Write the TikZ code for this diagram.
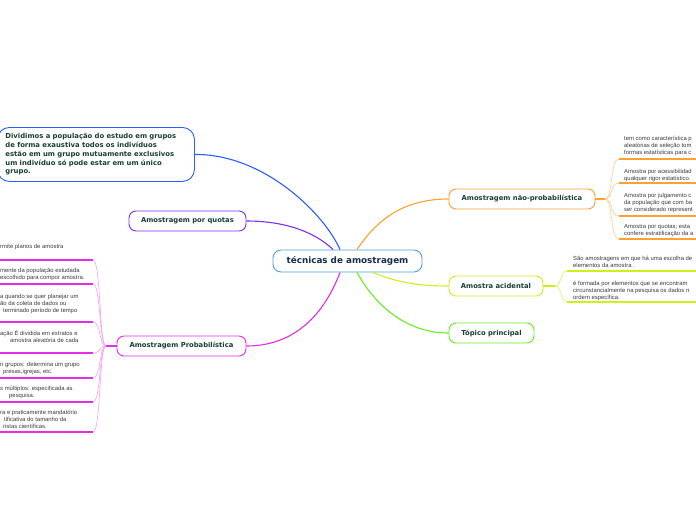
\documentclass[tikz,border=0pt]{standalone}
\usepackage{fontspec}
\setmainfont{DejaVu Sans}
\newfontfamily\leaffont{Liberation Sans}
\usepackage{xcolor}
\definecolor{rootblue}{HTML}{4F9FDB}
\definecolor{rootink}{HTML}{1B2B4B}
\definecolor{topicink}{HTML}{173F33}
\definecolor{leafink}{HTML}{3A3A3A}
\definecolor{divblue}{HTML}{2E5BFF}
\definecolor{quotapurple}{HTML}{7B2FF0}
\definecolor{probmagenta}{HTML}{E82BE8}
\definecolor{naoorange}{HTML}{FFA030}
\definecolor{acidyellow}{HTML}{CFEF1A}
\definecolor{topgreen}{HTML}{66EE22}
\tikzset{
  topic/.style={draw, rounded corners=7pt, line width=0.9pt, fill=white,
    inner sep=0pt, text=topicink, font=\bfseries\fontsize{6.8}{8}\selectfont},
  leaf/.style={inner sep=0pt, anchor=base west, text=leafink,
    font=\leaffont\fontsize{5.9}{7.3}\selectfont},
  branch/.style={line width=1.1pt},
  underline/.style={line width=1.3pt},
  fan/.style={line width=0.6pt},
}

\begin{document}
\begin{tikzpicture}
    [x=1pt,y=-1pt]
    \useasboundingbox (0,0) rectangle (696,520);
    \clip (0,0) rectangle (696,520);
    %central topic
    \node[draw=rootblue, rounded corners=8pt, line width=0.9pt, fill=white,
      minimum width=149pt, minimum height=22pt, inner sep=0pt, text=rootink,
      font=\bfseries\fontsize{8.8}{10}\selectfont] (root) at (347.5,261)
      {técnicas de amostragem};
    %main topics
    \node[draw=divblue, rounded corners=12pt, line width=0.9pt, fill=white,
      anchor=north west, text width=181pt, minimum height=54pt,
      inner xsep=8pt, inner ysep=0pt, align=left, text=topicink,
      font=\bfseries\fontsize{6.85}{8.8}\selectfont] (divid) at (-3,127)
      {Dividimos a população do estudo em grupos\\
       de forma  exaustiva todos os indivíduos\\
       estão em um grupo mutuamente exclusivos\\
       um indivíduo só pode estar em um único\\
       grupo.};
    \node[topic, draw=quotapurple, minimum width=117pt, minimum height=20pt]
      (quotas) at (187.5,221) {Amostragem por quotas};
    \node[topic, draw=probmagenta, minimum width=129pt, minimum height=20pt]
      (prob) at (181.5,346) {Amostragem Probabilística};
    \node[topic, draw=naoorange, minimum width=146pt, minimum height=20pt]
      (naoprob) at (522,199) {Amostragem não-probabilística};
    \node[topic, draw=acidyellow, minimum width=94pt, minimum height=20pt]
      (acid) at (496,286) {Amostra acidental};
    \node[topic, draw=topgreen, minimum width=85pt, minimum height=20pt]
      (topico) at (491.5,333) {Tópico principal};
    %connectors from the central topic
    \draw[branch, divblue] (divid.east) .. controls (265,154) and (325,215) .. ([xshift=-7.5pt]root.north);
    \draw[branch, quotapurple] (quotas.east) .. controls (285,221) and (315,232) .. ([xshift=-14.5pt]root.north);
    \draw[branch, probmagenta] ([xshift=-7.5pt]root.south) .. controls (322,320) and (290,346) .. (prob.east);
    \draw[branch, naoorange] ([xshift=9.5pt]root.north) .. controls (378,218) and (405,199) .. (naoprob.west);
    \draw[branch, acidyellow] ([xshift=25.5pt]root.south) .. controls (400,284) and (425,286) .. (acid.west);
    \draw[branch, topgreen] ([xshift=9.5pt]root.south) .. controls (378,310) and (410,333) .. (topico.west);
    %leaves of Amostragem Probabilistica
    \coordinate (lpbr) at (106,346);
    \coordinate (lp1u) at (93,260);
    \coordinate (lp2u) at (93,284);
    \coordinate (lp3u) at (93,322);
    \coordinate (lp4u) at (93,353);
    \coordinate (lp5u) at (93,378);
    \coordinate (lp6u) at (93,402);
    \coordinate (lp7u) at (93,432);
    \draw[branch, probmagenta] (prob.west) -- (lpbr);
    \draw[fan, probmagenta!45] (lpbr) .. controls (99,346) and (101,260) .. (lp1u);
    \draw[fan, probmagenta!45] (lpbr) .. controls (99,346) and (101,284) .. (lp2u);
    \draw[fan, probmagenta!45] (lpbr) .. controls (99,346) and (101,322) .. (lp3u);
    \draw[fan, probmagenta!45] (lpbr) .. controls (99,346) and (101,353) .. (lp4u);
    \draw[fan, probmagenta!45] (lpbr) .. controls (99,346) and (101,378) .. (lp5u);
    \draw[fan, probmagenta!45] (lpbr) .. controls (99,346) and (101,402) .. (lp6u);
    \draw[fan, probmagenta!45] (lpbr) .. controls (99,346) and (101,432) .. (lp7u);
    \draw[underline, probmagenta] (lp1u) -- ++(-100,0);
    \draw[underline, probmagenta] (lp2u) -- ++(-100,0);
    \draw[underline, probmagenta] (lp3u) -- ++(-100,0);
    \draw[underline, probmagenta] (lp4u) -- ++(-100,0);
    \draw[underline, probmagenta] (lp5u) -- ++(-100,0);
    \draw[underline, probmagenta] (lp6u) -- ++(-100,0);
    \draw[underline, probmagenta] (lp7u) -- ++(-100,0);
    \node[leaf] (lp1a) at (0,248) {rmite planos de amostra};
    \node[leaf] (lp2a) at (0,272) {mente  da população estudada};
    \node[leaf] (lp2b) at (0,279.3) {escolhido para compor amostra.};
    \node[leaf] (lp3a) at (0,298) {a quando se quer planejar um};
    \node[leaf] (lp3b) at (0,305.3) {ão da coleta  de dados ou};
    \node[leaf] (lp3c) at (3,312.6) {terminado período de tempo};
    \node[leaf] (lp4a) at (0,335) {ação É dividida em extratos  e};
    \node[leaf] (lp4b) at (10,342.3) {amostra  aleatória de cada};
    \node[leaf] (lp5a) at (0,366) {n grupos: determina um grupo};
    \node[leaf] (lp5b) at (3,373.3) {presas,igrejas, etc.};
    \node[leaf] (lp6a) at (0,390) {s múltiplos: especificada as};
    \node[leaf] (lp6b) at (9,397.3) {pesquisa.};
    \node[leaf] (lp7a) at (0,414) {ra e praticamente mandatório};
    \node[leaf] (lp7b) at (4,421.3) {tificativa do tamanho da};
    \node[leaf] (lp7c) at (3,428.6) {ristas científicas.};
    %leaves of Amostragem nao-probabilistica
    \coordinate (npbr) at (605,199);
    \coordinate (np1u) at (619,159);
    \coordinate (np2u) at (619,183);
    \coordinate (np3u) at (619,216);
    \coordinate (np4u) at (619,239);
    \draw[branch, naoorange] (naoprob.east) -- (npbr);
    \draw[fan, naoorange!55] (npbr) .. controls (613,199) and (610,159) .. (np1u);
    \draw[fan, naoorange!55] (npbr) .. controls (613,199) and (610,183) .. (np2u);
    \draw[fan, naoorange!55] (npbr) .. controls (613,199) and (610,216) .. (np3u);
    \draw[fan, naoorange!55] (npbr) .. controls (613,199) and (610,239) .. (np4u);
    \draw[underline, naoorange] (np1u) -- ++(80,0);
    \draw[underline, naoorange] (np2u) -- ++(80,0);
    \draw[underline, naoorange] (np3u) -- ++(80,0);
    \draw[underline, naoorange] (np4u) -- ++(80,0);
    \node[leaf] (np1a) at (624,140) {tem como característica p};
    \node[leaf] (np1b) at (624,147.3) {aleatórias de seleção tom};
    \node[leaf] (np1c) at (624,154.6) {formas estatísticas para c};
    \node[leaf] (np2a) at (624,173) {Amostra por acessibilidad};
    \node[leaf] (np2b) at (624,180.3) {qualquer rigor estatístico.};
    \node[leaf] (np3a) at (624,197) {Amostra por julgamento c};
    \node[leaf] (np3b) at (624,204.3) {da população que com ba};
    \node[leaf] (np3c) at (624,211.6) {ser considerado represent};
    \node[leaf] (np4a) at (624,228) {Amostra por quotas; esta};
    \node[leaf] (np4b) at (624,235.3) {confere estratificação da a};
    %leaves of Amostra acidental
    \coordinate (acbr) at (555,286);
    \coordinate (ac1u) at (567,271);
    \coordinate (ac2u) at (567,302);
    \draw[branch, acidyellow] (acid.east) -- (acbr);
    \draw[fan, acidyellow!70] (acbr) .. controls (562,286) and (560,271) .. (ac1u);
    \draw[fan, acidyellow!70] (acbr) .. controls (562,286) and (560,302) .. (ac2u);
    \draw[underline, acidyellow] (ac1u) -- ++(130,0);
    \draw[underline, acidyellow] (ac2u) -- ++(130,0);
    \node[leaf] (ac1a) at (573,260) {São amostragens em que há uma escolha de};
    \node[leaf] (ac1b) at (573,267.3) {elementos da amostra .};
    \node[leaf] (ac2a) at (573,285) {é formada por elementos que se encontram};
    \node[leaf] (ac2b) at (573,292.3) {circunstancialmente  na pesquisa os dados n};
    \node[leaf] (ac2c) at (573,299.6) {ordem específica.};
\end{tikzpicture}
\end{document}
